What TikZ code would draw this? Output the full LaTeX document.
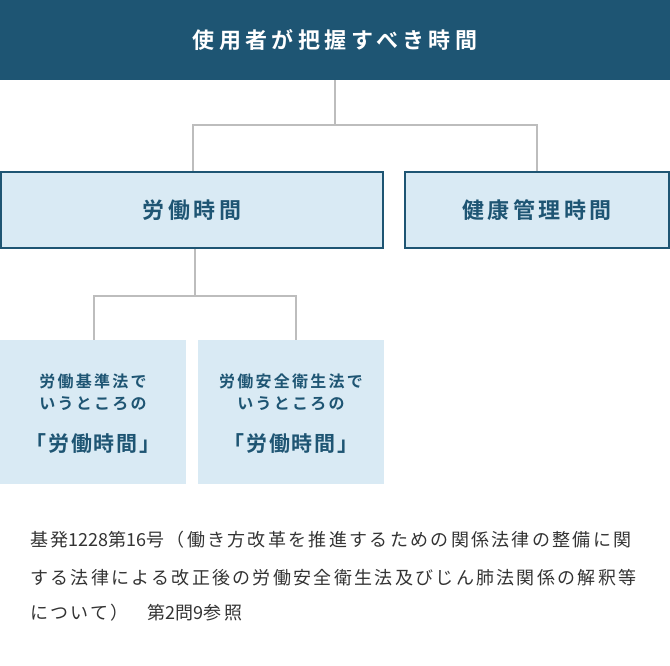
\documentclass[tikz,border=0pt]{standalone}
\usepackage{fontspec}
\setmainfont{Noto Sans CJK JP}
\newfontfamily\jpbtitle{Noto Sans CJK JP Bold}[LetterSpace=20]
\newfontfamily\jpbbox{Noto Sans CJK JP Bold}[LetterSpace=16]
\newfontfamily\jpbsmall{Noto Sans CJK JP Bold}[LetterSpace=14]
\newfontfamily\jpbbig{Noto Sans CJK JP Bold}[LetterSpace=8]
\newfontfamily\jpnote{Noto Sans CJK JP}[LetterSpace=12.8]
\newfontfamily\jpnum{Noto Sans CJK JP}
\newcommand{\nm}[1]{{\jpnum #1}}
\definecolor{navy}{HTML}{1E5573}
\definecolor{pale}{HTML}{D9EAF4}
\definecolor{linegray}{HTML}{BDBDBD}
\definecolor{txt}{HTML}{333333}
\tikzset{
  conn/.style={draw=linegray, line width=2pt},
  midbox/.style={draw=navy, line width=2pt, fill=pale, text=navy, inner sep=0pt,
    minimum height=76pt, font=\jpbbox\fontsize{22}{22}\selectfont},
  smbox/.style={fill=pale, inner sep=0pt, minimum width=186pt, minimum height=144pt},
  smtxt/.style={text=navy, inner sep=0pt, font=\jpbsmall\fontsize{16}{16}\selectfont},
  bigtxt/.style={text=navy, inner sep=0pt, font=\jpbbig\fontsize{21}{21}\selectfont},
  note/.style={text=txt, inner sep=0pt, anchor=west, font=\jpnote\fontsize{18}{18}\selectfont}
}
\begin{document}
\begin{tikzpicture}[x=1pt,y=-1pt]
\useasboundingbox (0,0) rectangle (670,666);
\node[fill=navy, minimum width=670pt, minimum height=80pt, inner sep=0pt,
  text=white, font=\jpbtitle\fontsize{22}{22}\selectfont] (top) at (335,40) {使用者が把握すべき時間};
\node[midbox, minimum width=382pt] (b1) at (192,210) {労働時間};
\node[midbox, minimum width=264pt] (b2) at (537,210) {健康管理時間};
\node[smbox] (s1) at (93,412) {};
\node[smbox] (s2) at (291,412) {};
\coordinate (j1) at (335,125);
\coordinate (j2) at (195,296);
\draw[conn] (top.south) -- (j1);
\draw[conn] ([xshift=1pt]b1.north) |- (j1) -| (b2.north);
\draw[conn] (j2 |- b1.south) -- (j2);
\draw[conn] ([xshift=1pt]s1.north) |- (j2) -| ([xshift=5pt]s2.north);
\node[smtxt] (t11) at (93,381) {労働基準法で};
\node[smtxt] (t12) at (93,404) {いうところの};
\node[bigtxt] (t13) at (93,444) {「労働時間」};
\node[smtxt] (t21) at (291,381) {労働安全衛生法で};
\node[smtxt] (t22) at (291,404) {いうところの};
\node[bigtxt] (t23) at (291,444) {「労働時間」};
\node[note] (n1) at (30,540) {基発\nm{1228}第\nm{16}号（働き方改革を推進するための関係法律の整備に関};
\node[note] (n2) at (30,578) {する法律による改正後の労働安全衛生法及びじん肺法関係の解釈等};
\node[note] (n3) at (30,613) {について）\hspace{19pt}第\nm{2}問\nm{9}参照};
\end{tikzpicture}
\end{document}
